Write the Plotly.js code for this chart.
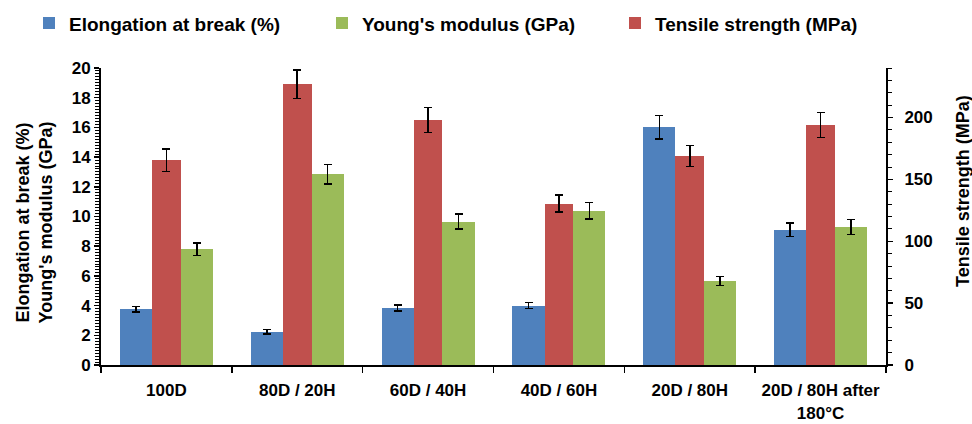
<!DOCTYPE html>
<html>
<head>
<meta charset="utf-8">
<script src="https://cdn.plot.ly/plotly-3.0.1.min.js"></script>
<style>html,body{margin:0;padding:0;background:#fff;}#chart{width:972px;height:424px;}</style>
</head>
<body>
<div id="chart"></div>
<script>
const categories = ["100D", "80D / 20H", "60D / 40H", "40D / 60H", "20D / 80H", "20D / 80H after<br>180°C"];
const elongation = [3.75, 2.25, 3.85, 4.0, 16.0, 9.1];
const elongationErr = [0.2, 0.15, 0.2, 0.2, 0.8, 0.45];
const modulus = [7.8, 12.85, 9.65, 10.4, 5.65, 9.3];
const modulusErr = [0.42, 0.65, 0.5, 0.55, 0.3, 0.5];
const tensile = [165.5, 227, 198, 130.5, 169, 194];
const tensileErr = [9, 11.5, 10, 6.7, 8.5, 10];

const FONT = "Liberation Sans, Arial, sans-serif";
const errStyle = {type: "data", visible: true, color: "#000", thickness: 1.6, width: 4};

const traces = [
  {type: "bar", name: "Elongation at break (%)", x: categories, y: elongation,
   error_y: Object.assign({array: elongationErr}, errStyle), legend: "legend",
   marker: {color: "#4F81BD"}, offset: -0.355, width: 0.245, yaxis: "y"},
  {type: "bar", name: "Young's modulus (GPa)", x: categories, y: modulus,
   error_y: Object.assign({array: modulusErr}, errStyle), legend: "legend2",
   marker: {color: "#9BBB59"}, offset: 0.11, width: 0.245, yaxis: "y"},
  {type: "bar", name: "Tensile strength (MPa)", x: categories, y: tensile,
   error_y: Object.assign({array: tensileErr}, errStyle), legend: "legend3",
   marker: {color: "#C0504D"}, offset: -0.11, width: 0.22, yaxis: "y2"}
];

function leg(xpx) {
  return {orientation: "h", xref: "container", yref: "container", x: xpx / 972, y: 0.99,
    xanchor: "left", yanchor: "top", bgcolor: "rgba(0,0,0,0)",
    font: {family: FONT, size: 19, weight: "bold", color: "#000"}};
}

const layout = {
  width: 972, height: 424,
  margin: {l: 101, r: 86, t: 68, b: 59, autoexpand: false},
  paper_bgcolor: "#fff", plot_bgcolor: "#fff",
  font: {family: FONT, color: "#000", size: 17},
  showlegend: true,
  legend: leg(29), legend2: leg(322), legend3: leg(615),
  xaxis: {type: "category", tickson: "boundaries", ticks: "outside", ticklen: 6, tickwidth: 1.5,
    tickcolor: "#000", showline: true, linecolor: "#000", linewidth: 2, showgrid: false,
    tickangle: 0, automargin: false, ticklabelstandoff: 9,
    tickfont: {family: FONT, size: 17, weight: "bold"}, range: [-0.5, 5.5]},
  yaxis: {range: [0, 20], dtick: 2, ticks: "outside", ticklen: 5, tickwidth: 1.5, tickcolor: "#000",
    showline: true, linecolor: "#000", linewidth: 2, showgrid: false, zeroline: false, automargin: false,
    tickfont: {family: FONT, size: 17, weight: "bold"},
    minor: {dtick: 0.2, ticks: "outside", ticklen: 4, tickwidth: 1, tickcolor: "#000", showgrid: false}},
  yaxis2: {range: [0, 240], dtick: 50, overlaying: "y", side: "right", ticks: "outside", ticklen: 5,
    tickwidth: 1.5, tickcolor: "#000", showline: true, linecolor: "#000", linewidth: 2, automargin: false,
    showgrid: false, zeroline: false, ticklabelstandoff: 8, tickfont: {family: FONT, size: 17, weight: "bold"},
    minor: {dtick: 10, ticks: "outside", ticklen: 4, tickwidth: 1, tickcolor: "#000", showgrid: false}},
  annotations: [
    {text: "Elongation at break (%)<br>Young's modulus (GPa)", xref: "paper", yref: "paper",
     x: 0, y: 0.48, xshift: -67, textangle: -90, showarrow: false, xanchor: "center", yanchor: "middle",
     font: {family: FONT, size: 18, weight: "bold", color: "#000"}},
    {text: "Tensile strength (MPa)", xref: "paper", yref: "paper",
     x: 1, y: 0.586, xshift: 77, textangle: -90, showarrow: false, xanchor: "center", yanchor: "middle",
     font: {family: FONT, size: 18, weight: "bold", color: "#000"}}
  ],
  bargap: 0, barmode: "overlay"
};

Plotly.newPlot("chart", traces, layout, {displayModeBar: false, staticPlot: true});
</script>
</body>
</html>
